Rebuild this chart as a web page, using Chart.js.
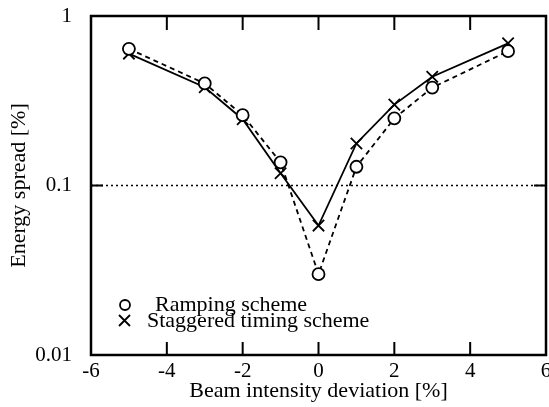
<!DOCTYPE html>
<html>
<head>
<meta charset="utf-8">
<script src="https://cdn.jsdelivr.net/npm/chart.js@4.4.1/dist/chart.umd.min.js"></script>
<style>
  html, body { margin: 0; padding: 0; background: #fff; }
  #wrap { width: 549px; height: 407px; }
</style>
</head>
<body>
<div id="wrap"><canvas id="myChart" width="549" height="407"></canvas></div>
<script>
// beam intensity deviation [%]
var deviation = [-5, -3, -2, -1, 0, 1, 2, 3, 5];
// energy spread [%]
var ramping   = [0.64, 0.40, 0.26, 0.137, 0.030, 0.129, 0.249, 0.378, 0.62];
var staggered = [0.60, 0.38, 0.246, 0.118, 0.058, 0.177, 0.30, 0.438, 0.69];
var xTicks = [-6, -4, -2, 0, 2, 4, 6];
var yTicks = [0.01, 0.1, 1];
var seriesNames = ["Ramping scheme", "Staggered timing scheme"];

function pts(ys) {
  return deviation.map(function (x, i) { return { x: x, y: ys[i] }; });
}

var serif = "'Liberation Serif', 'Times New Roman', serif";

/*-------------------------
frame, inner ticks, 0.1 line, legend
--------------------------*/
var framePlugin = {
  id: "frame",
  beforeDatasetsDraw: function (chart) {
    var c = chart.ctx, a = chart.chartArea, y = chart.scales.y;
    var py = y.getPixelForValue(0.1);
    c.save();
    c.strokeStyle = "#000";
    c.lineWidth = 1.5;
    c.setLineDash([2, 3]);
    c.beginPath();
    c.moveTo(a.left, py);
    c.lineTo(a.right, py);
    c.stroke();
    c.restore();
  },
  afterDraw: function (chart) {
    var c = chart.ctx, a = chart.chartArea, xs = chart.scales.x, ys = chart.scales.y;
    c.save();
    c.strokeStyle = "#000";
    c.lineWidth = 2.5;
    c.strokeRect(a.left, a.top, a.right - a.left, a.bottom - a.top);
    c.lineWidth = 2;
    c.beginPath();
    [-4, -2, 0, 2, 4].forEach(function (v) {
      var px = xs.getPixelForValue(v);
      c.moveTo(px, a.top); c.lineTo(px, a.top + 14);
      c.moveTo(px, a.bottom); c.lineTo(px, a.bottom - 13);
    });
    var py = ys.getPixelForValue(0.1);
    c.moveTo(a.left, py); c.lineTo(a.left + 12, py);
    c.moveTo(a.right, py); c.lineTo(a.right - 12, py);
    c.stroke();

    // legend
    c.lineWidth = 1.8;
    c.beginPath();
    c.arc(125, 305, 5, 0, Math.PI * 2);
    c.stroke();
    c.beginPath();
    c.moveTo(119, 315); c.lineTo(130, 326);
    c.moveTo(130, 315); c.lineTo(119, 326);
    c.stroke();
    c.fillStyle = "#000";
    c.font = "22px " + serif;
    c.textBaseline = "middle";
    c.fillText(seriesNames[0], 155, 305);
    c.fillText(seriesNames[1], 147, 321);
    c.restore();
  }
};

var ctx = document.getElementById("myChart").getContext("2d");
var myChart = new Chart(ctx, {
  type: "line",
  data: {
    datasets: [{
      label: seriesNames[0],
      data: pts(ramping),
      borderColor: "#000",
      borderWidth: 1.8,
      borderDash: [5, 4],
      pointStyle: "circle",
      pointRadius: 6,
      pointBorderWidth: 1.8,
      pointBorderColor: "#000",
      pointBackgroundColor: "#fff",
      tension: 0,
      fill: false
    }, {
      label: seriesNames[1],
      data: pts(staggered),
      borderColor: "#000",
      borderWidth: 1.8,
      pointStyle: "crossRot",
      pointRadius: 8,
      pointBorderWidth: 1.8,
      pointBorderColor: "#000",
      tension: 0,
      fill: false
    }]
  },
  options: {
    responsive: false,
    animation: false,
    devicePixelRatio: 1,
    layout: { padding: 0, autoPadding: false },
    plugins: {
      legend: { display: false },
      tooltip: { enabled: false }
    },
    scales: {
      x: {
        type: "linear",
        min: -6,
        max: 6,
        afterBuildTicks: function (s) {
          s.ticks = xTicks.map(function (v) { return { value: v }; });
        },
        afterFit: function (s) {
          s.height = 52;
          s.paddingRight = 3;
          s.paddingLeft = 0;
        },
        grid: { display: false, drawTicks: false },
        border: { display: false },
        ticks: {
          color: "#000",
          padding: 4,
          font: { family: serif, size: 21 },
          maxRotation: 0,
          callback: function (v) { return String(v); }
        },
        title: {
          display: true,
          text: "Beam intensity deviation [%]",
          color: "#000",
          font: { family: serif, size: 22 },
          padding: { top: 0, bottom: 3 }
        }
      },
      y: {
        type: "logarithmic",
        min: 0.01,
        max: 1,
        afterBuildTicks: function (s) {
          s.ticks = yTicks.map(function (v) { return { value: v }; });
        },
        afterFit: function (s) {
          s.width = 91;
          s.paddingTop = 16;
          s.paddingBottom = 0;
        },
        grid: { display: false, drawTicks: false },
        border: { display: false },
        ticks: {
          color: "#000",
          padding: 19,
          font: { family: serif, size: 21 },
          callback: function (v) { return String(v); }
        },
        title: {
          display: true,
          text: "Energy spread [%]",
          color: "#000",
          font: { family: serif, size: 22 },
          padding: { top: 6, bottom: 6 }
        }
      }
    }
  },
  plugins: [framePlugin]
});
</script>
</body>
</html>
